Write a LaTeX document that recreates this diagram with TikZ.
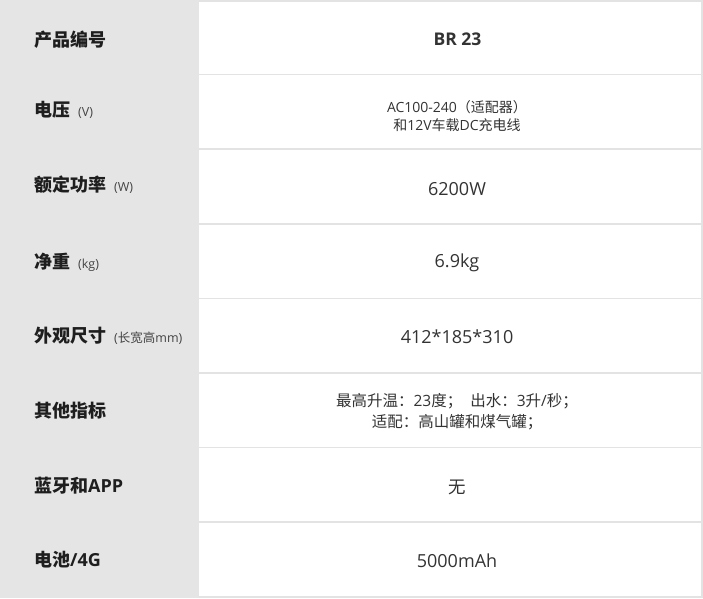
\documentclass[tikz,border=0pt]{standalone}
\usepackage{fontspec}
\setmainfont{Noto Sans CJK SC}
\newfontfamily\latin{Open Sans}
\definecolor{keyfill}{HTML}{E5E5E5}
\definecolor{rulegray}{HTML}{E3E3E3}
\definecolor{keyink}{HTML}{1E1E1E}
\definecolor{valink}{HTML}{333333}
\definecolor{unitink}{HTML}{444444}
\newcommand{\keyunit}[1]{\hspace{8pt}{\fontsize{12.5}{14}\selectfont\mdseries\color{unitink}#1}}
\tikzset{
  keytext/.style={anchor=west, inner sep=0pt, text=keyink, font=\fontsize{18}{22}\selectfont\bfseries},
  valtext/.style={inner sep=0pt, text=valink, align=center, font=\fontsize{17.5}{21}\selectfont},
  valsmall/.style={valtext, font=\fontsize{14}{18.5}\selectfont},
  valmid/.style={valtext, font=\fontsize{15.5}{21}\selectfont}
}
\begin{document}
\begin{tikzpicture}[x=1pt, y=-1pt]
      \useasboundingbox (0, 0) rectangle (703, 598);
      \fill[white] (0, 0) rectangle (703, 598);
      \fill[keyfill] (0, 0) rectangle (199, 598);

      \foreach \k in {1, ..., 7}
        \draw[rulegray, line width=1.6pt] (199, 74.6*\k) -- (703, 74.6*\k);
      \draw[rulegray, line width=1.6pt] (199, 0.8) -- (702.2, 0.8) -- (702.2, 597.2) -- (199, 597.2);

      \node[keytext] (k1) at (34, 40) {产品编号};
      \node[keytext] (k2) at (34, 110) {电压\keyunit{\latin (V)}};
      \node[keytext] (k3) at (34, 185) {额定功率\keyunit{\latin (W)}};
      \node[keytext] (k4) at (34, 262) {净重\keyunit{\latin (kg)}};
      \node[keytext] (k5) at (34, 336) {外观尺寸\keyunit{{\latin (}长宽高{\latin mm)}}};
      \node[keytext] (k6) at (34, 411) {其他指标};
      \node[keytext] (k7) at (34, 486) {蓝牙和{\latin APP}};
      \node[keytext] (k8) at (34, 560) {电池{\latin /4G}};

      \node[valtext, font=\fontsize{17.5}{21}\selectfont\bfseries\latin] (v1) at (457.5, 39) {BR 23};
      \node[valsmall] (v2) at (457, 116) {{\latin AC100-240}（适配器）\\和{\latin 12V}车载{\latin DC}充电线};
      \node[valtext, font=\fontsize{18}{21}\selectfont\latin] (v3) at (457, 189) {6200W};
      \node[valtext, font=\fontsize{18}{21}\selectfont\latin] (v4) at (457, 263) {6.9kg};
      \node[valtext, font=\fontsize{18}{21}\selectfont\latin] (v5) at (457, 337) {412*185*310};
      \node[valmid] (v6) at (457, 412) {最高升温：{\latin 23}度；\hspace{8pt}出水：{\latin 3}升{\latin /}秒；\\适配：高山罐和煤气罐；};
      \node[valtext] (v7) at (457, 487) {无};
      \node[valtext, font=\fontsize{18}{21}\selectfont\latin] (v8) at (457, 561) {5000mAh};
    \end{tikzpicture}
\end{document}
